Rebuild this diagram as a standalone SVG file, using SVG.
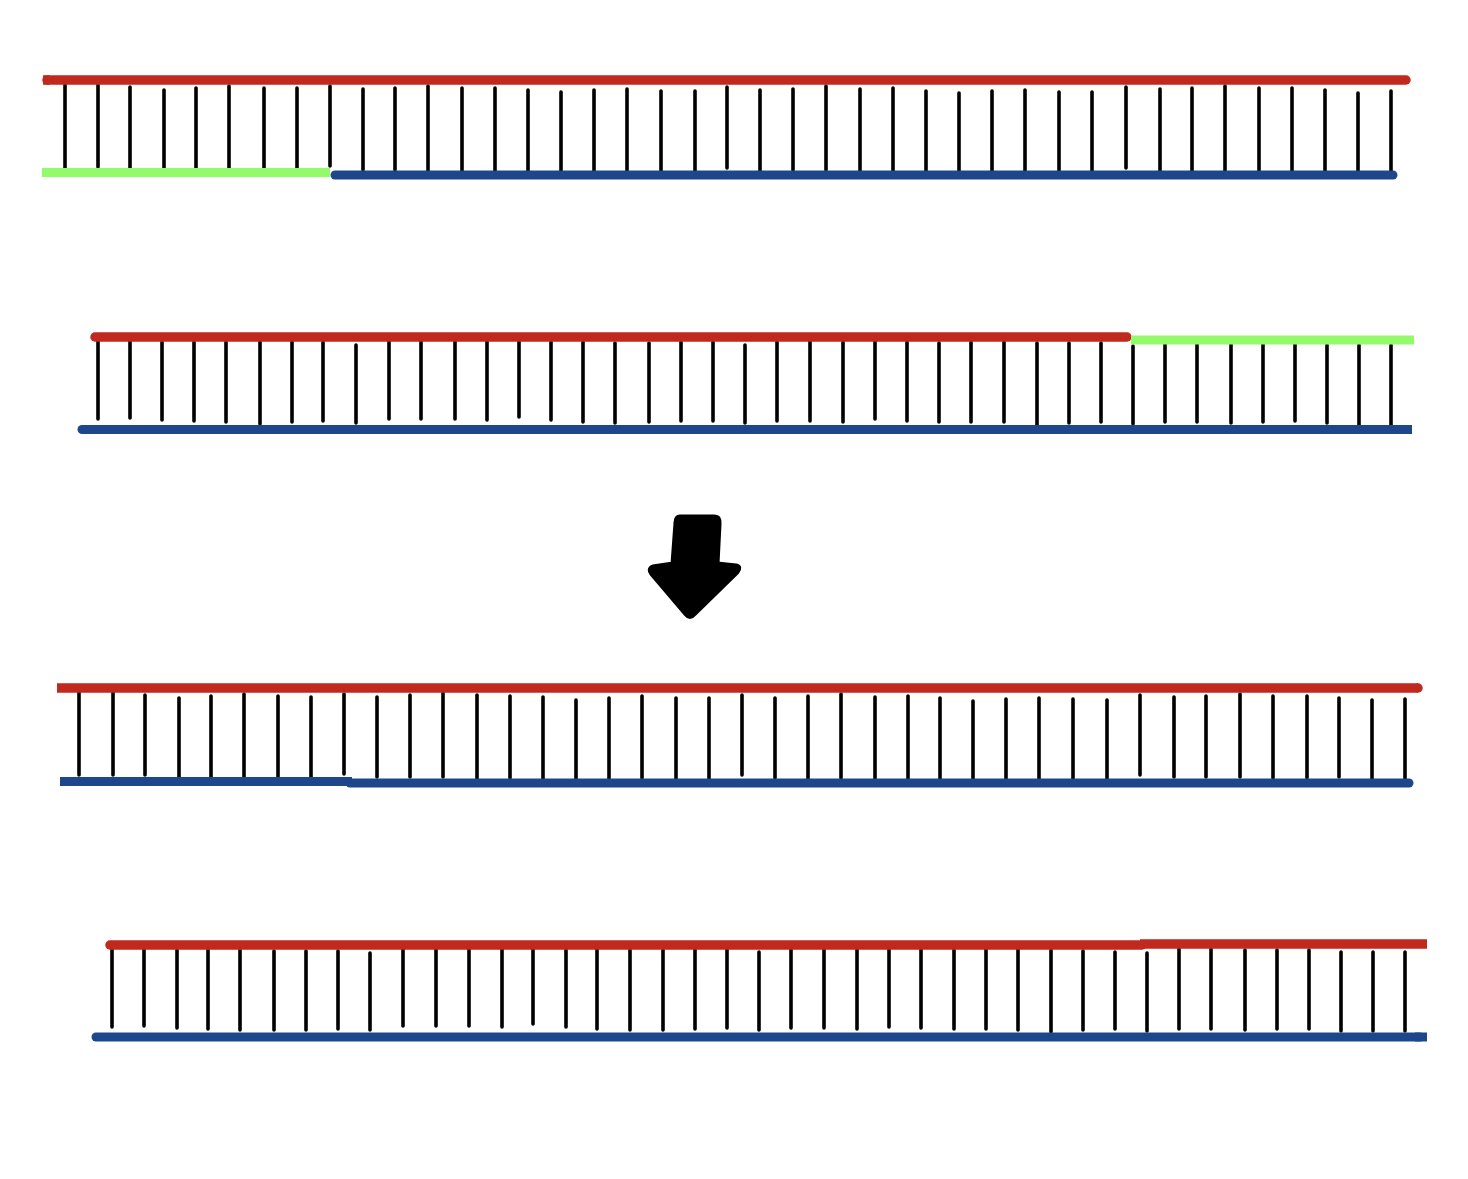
<svg xmlns="http://www.w3.org/2000/svg" width="1468" height="1179" viewBox="0 0 1468 1179">
<style>
.red{stroke:#C1291F;stroke-width:9.5;fill:none}
.blue{stroke:#1E468A;stroke-width:9;fill:none}
.green{stroke:#93FA6A;stroke-width:9;fill:none}
.rc{stroke-linecap:round}
.sc{stroke-linecap:butt}
.rung{stroke:#000;stroke-width:3.6;stroke-linecap:round;fill:none}
</style>
<rect width="1468" height="1179" fill="#fff"/>
<g id="duplex1">
<path class="rung" d="M65 85V168M98 85V167M130 87V168M164 90V170M196 88V170M229 86V170M264 88V170M297 88V170M330 86V166M363 89V170M395 88V170M428 86V171M462 88V171M495 88V171M528 90V171M561 92V172M594 90V171M627 89V171M661 91V172M695 91V173M727 87V168M760 90V171M793 89V170M826 86V170M860 89V171M893 88V171M926 91V172M959 93V173M992 91V172M1025 90V171M1059 92V173M1092 92V173M1126 87V168M1160 89V171M1192 88V171M1225 86V171M1259 88V171M1292 88V171M1325 90V171M1358 93V173M1391 91V173"/>
<path class="red rc" d="M47 80H1406"/>
<path class="red sc" d="M43 80H50"/>
<path class="green sc" d="M42 172.5H330"/>
<path class="blue rc" d="M335 175H1393"/>
</g>
<g id="duplex2">
<path class="rung" d="M98 339V419M130 339V418M162 342V420M194 342V421M226 342V422M260 342V424M292 342V422M323 342V421M356 345V423M389 339V419M421 339V419M455 339V419M487 340V420M519 341V417M551 342V420M583 342V422M615 343V423M649 343V422M681 342V421M713 342V421M745 345V423M777 342V421M810 341V421M843 342V422M875 341V419M907 342V421M939 343V422M971 342V422M1004 342V422M1037 343V425M1069 343V423M1101 343V422M1133 346V424M1165 342V422M1197 342V422M1231 342V423M1263 342V422M1295 343V421M1327 345V423M1359 345V425M1391 345V425"/>
<path class="red rc" d="M95 337H1127"/>
<path class="green sc" d="M1131 340H1414"/>
<path class="blue rc" d="M82 429.5H1405"/>
<path class="blue sc" d="M1400 429.5H1412"/>
</g>
<g id="arrow">
<path d="M680 517Q676 517 676 523L673 564L653 567Q648 569 652 574L686 614Q690 619 694 614L737 572Q741 567 736 566L717 564L719 524Q720 517 714 517Z" fill="#000" stroke="#000" stroke-width="5" stroke-linejoin="round"/>
</g>
<g id="duplex3">
<path class="rung" d="M79 692V775M113 692V775M145 695V775M179 698V777M211 696V777M244 694V778M278 696V779M311 697V778M344 694V774M377 697V777M410 695V777M443 693V777M477 695V779M510 696V778M543 697V779M576 700V780M609 698V779M642 696V778M676 698V780M709 698V780M742 695V775M775 698V778M808 696V779M841 694V778M875 697V779M908 696V779M940 698V779M973 701V780M1006 699V779M1039 698V779M1073 699V781M1107 700V780M1140 695V775M1174 697V777M1206 696V777M1240 694V777M1273 696V778M1307 696V778M1339 698V777M1372 700V779M1405 699V780"/>
<path class="red sc" d="M57 688H1418"/>
<circle cx="1418" cy="688" r="4.75" fill="#C1291F"/>
<path class="blue sc" d="M60 781.5H352"/>
<path class="blue rc" d="M350 783H1409"/>
</g>
<g id="duplex4">
<path class="rung" d="M112 948V1027M144 947V1026M177 950V1028M208 950V1029M240 950V1030M274 951V1030M306 951V1030M338 951V1029M370 953V1030M403 946V1026M436 946V1026M469 946V1026M502 948V1027M533 948V1024M566 950V1027M597 949V1029M630 950V1030M663 950V1030M695 949V1029M727 949V1028M759 952V1030M791 949V1028M824 948V1028M857 949V1029M889 948V1027M921 949V1028M954 950V1029M986 949V1029M1018 949V1030M1051 950V1032M1083 951V1030M1115 952V1029M1147 953V1031M1179 949V1029M1211 949V1029M1245 950V1030M1277 950V1029M1309 950V1029M1341 952V1031M1373 952V1031M1405 952V1031"/>
<path class="red rc" d="M110 945H1142"/>
<path class="red sc" d="M1140 944H1427"/>
<path class="blue rc" d="M96 1037H1420"/>
<path class="blue sc" d="M1415 1037H1427"/>
</g>
</svg>
